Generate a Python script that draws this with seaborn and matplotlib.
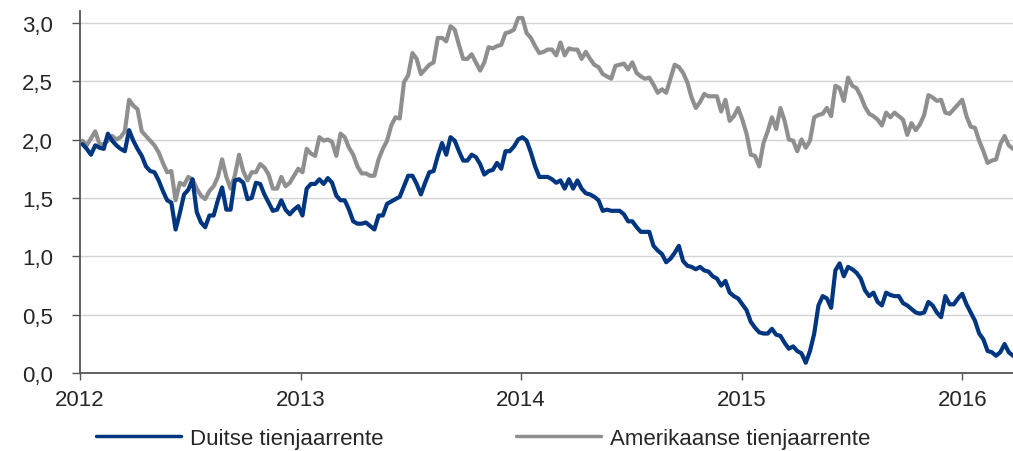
import numpy as np
import pandas as pd
import seaborn as sns
import matplotlib.pyplot as plt
import matplotlib.dates as mdates
from matplotlib.lines import Line2D
from matplotlib.ticker import FuncFormatter, MultipleLocator

# weekly 10-year yields
start_date = '2012-01-06'

duitse = [
    1.96, 1.92, 1.87, 1.95, 1.93, 1.92, 2.05, 1.99, 1.95, 1.92, 1.90, 2.08, 1.99, 1.92,
    1.86, 1.77, 1.73, 1.72, 1.65, 1.56, 1.48, 1.46, 1.23, 1.37, 1.53, 1.57, 1.66, 1.38,
    1.29, 1.25, 1.35, 1.35, 1.48, 1.59, 1.40, 1.40, 1.65, 1.66, 1.63, 1.49, 1.50, 1.63,
    1.62, 1.53, 1.46, 1.39, 1.40, 1.48, 1.40, 1.36, 1.40, 1.43, 1.35, 1.58, 1.62,
    1.62, 1.66, 1.62, 1.67, 1.63, 1.52, 1.48, 1.48, 1.40, 1.30, 1.28, 1.28, 1.29, 1.26,
    1.23, 1.35, 1.35, 1.45, 1.47, 1.49, 1.51, 1.60, 1.69, 1.69, 1.62, 1.53, 1.63,
    1.72, 1.73, 1.86, 1.97, 1.87, 2.02, 1.99, 1.90, 1.82, 1.82, 1.87, 1.85, 1.79, 1.70,
    1.73, 1.74, 1.80, 1.75, 1.90, 1.90, 1.94, 2.00, 2.02, 1.99, 1.89, 1.77, 1.68,
    1.68, 1.68, 1.66, 1.63, 1.65, 1.58, 1.66, 1.58, 1.65, 1.58, 1.54, 1.53, 1.51, 1.48,
    1.39, 1.40, 1.39, 1.39, 1.39, 1.36, 1.30, 1.30, 1.25, 1.21, 1.21, 1.21, 1.09,
    1.05, 1.02, 0.95, 0.98, 1.03, 1.09, 0.96, 0.92, 0.91, 0.89, 0.91, 0.88, 0.87, 0.83,
    0.81, 0.75, 0.79, 0.69, 0.66, 0.64, 0.59, 0.54, 0.44, 0.39, 0.35, 0.34, 0.34,
    0.38, 0.33, 0.32, 0.26, 0.21, 0.23, 0.19, 0.17, 0.09, 0.19, 0.34, 0.58, 0.66, 0.64,
    0.56, 0.88, 0.94, 0.83, 0.91, 0.89, 0.86, 0.81, 0.71, 0.66, 0.69, 0.61, 0.58,
    0.69, 0.67, 0.66, 0.66, 0.60, 0.58, 0.55, 0.52, 0.51, 0.52, 0.61, 0.58, 0.52, 0.48,
    0.66, 0.59, 0.59, 0.64, 0.68, 0.59, 0.52, 0.45, 0.34, 0.29, 0.19, 0.18, 0.15, 0.18,
    0.25, 0.18, 0.15,
]

amerikaanse = [
    1.99, 1.95, 2.01, 2.07, 1.96, 1.96, 1.99, 2.03, 2.00, 2.02, 2.07, 2.34, 2.29, 2.26,
    2.07, 2.03, 1.99, 1.95, 1.89, 1.80, 1.72, 1.73, 1.48, 1.63, 1.61, 1.68, 1.66, 1.58,
    1.52, 1.49, 1.56, 1.60, 1.68, 1.83, 1.68, 1.58, 1.69, 1.87, 1.73, 1.65, 1.72, 1.72,
    1.79, 1.76, 1.70, 1.58, 1.58, 1.68, 1.60, 1.63, 1.69, 1.75, 1.72, 1.92, 1.88,
    1.86, 2.02, 1.99, 2.00, 1.98, 1.86, 2.05, 2.02, 1.93, 1.87, 1.77, 1.71, 1.71, 1.69,
    1.69, 1.83, 1.92, 1.99, 2.12, 2.19, 2.18, 2.49, 2.55, 2.74, 2.69, 2.56, 2.60,
    2.64, 2.66, 2.87, 2.87, 2.84, 2.97, 2.94, 2.81, 2.69, 2.69, 2.73, 2.66, 2.59, 2.66,
    2.79, 2.78, 2.80, 2.81, 2.91, 2.92, 2.94, 3.04, 3.04, 2.91, 2.87, 2.80, 2.74,
    2.75, 2.77, 2.77, 2.72, 2.83, 2.72, 2.78, 2.77, 2.77, 2.69, 2.75, 2.69, 2.64, 2.62,
    2.56, 2.54, 2.52, 2.63, 2.64, 2.65, 2.60, 2.66, 2.57, 2.54, 2.52, 2.53, 2.47,
    2.40, 2.43, 2.40, 2.52, 2.64, 2.62, 2.57, 2.49, 2.36, 2.27, 2.32, 2.39, 2.37, 2.37,
    2.37, 2.24, 2.34, 2.16, 2.20, 2.27, 2.17, 2.05, 1.87, 1.86, 1.77, 1.97, 2.07,
    2.19, 2.09, 2.27, 2.16, 2.00, 1.99, 1.90, 2.00, 1.93, 1.99, 2.19, 2.21, 2.22, 2.27,
    2.20, 2.46, 2.44, 2.33, 2.53, 2.46, 2.44, 2.37, 2.28, 2.22, 2.20, 2.17, 2.12,
    2.23, 2.19, 2.23, 2.20, 2.17, 2.04, 2.14, 2.08, 2.13, 2.21, 2.38, 2.36, 2.33, 2.34,
    2.23, 2.22, 2.26, 2.30, 2.34, 2.20, 2.11, 2.10, 1.99, 1.90, 1.80, 1.82, 1.83, 1.96,
    2.03, 1.95, 1.92,
]

labels = ['Duitse tienjaarrente', 'Amerikaanse tienjaarrente']
colors = ['#003580', '#8f8f8f']

dates = pd.date_range(start_date, periods=len(duitse), freq='7D')
df = pd.DataFrame({'datum': dates, labels[0]: duitse, labels[1]: amerikaanse})
df = df.melt(id_vars='datum', var_name='reeks', value_name='rente')

sns.set_style('white')
plt.rcParams['font.family'] = ['Liberation Sans', 'DejaVu Sans']

fig = plt.figure(figsize=(10.13, 4.52), dpi=100)
ax = fig.add_axes([0.0785, 0.172, 0.9215, 0.8015])

# grey first so the blue line lies on top
sns.lineplot(data=df, x='datum', y='rente', hue='reeks', hue_order=labels[::-1],
             palette=dict(zip(labels, colors)), linewidth=3.0, ax=ax, legend=False)

ax.set_ylim(0, 3.1)
ax.set_xlim(pd.Timestamp('2012-01-01'), dates[-1])
ax.yaxis.set_major_locator(MultipleLocator(0.5))
ax.yaxis.set_major_formatter(FuncFormatter(lambda v, p: f'{v:.1f}'.replace('.', ',')))
ax.xaxis.set_major_locator(mdates.YearLocator())
ax.xaxis.set_major_formatter(mdates.DateFormatter('%Y'))
ax.set_xlabel('')
ax.set_ylabel('')

ax.grid(axis='y', color='#d4d4d4', linewidth=1.0)
ax.grid(axis='x', visible=False)
ax.set_axisbelow(True)

for s in ['top', 'right']:
    ax.spines[s].set_visible(False)
for s in ['left', 'bottom']:
    ax.spines[s].set_color('#555555')
    ax.spines[s].set_linewidth(1.3)

ax.tick_params(axis='y', direction='out', length=6, width=1, color='#555555',
               pad=13, labelsize=16, left=True)
ax.tick_params(axis='x', direction='out', length=5, width=1, color='#555555',
               pad=6, labelsize=16, bottom=True)

handles = [Line2D([], [], color=c, linewidth=2.5) for c in colors]
fig.legend(handles, labels, loc='lower left', bbox_to_anchor=(0.084, -0.02), ncol=2,
           frameon=False, fontsize=16, handlelength=3.8, columnspacing=6.0,
           handletextpad=0.4, borderpad=0.0)

fig.savefig('out.png', dpi=100)
